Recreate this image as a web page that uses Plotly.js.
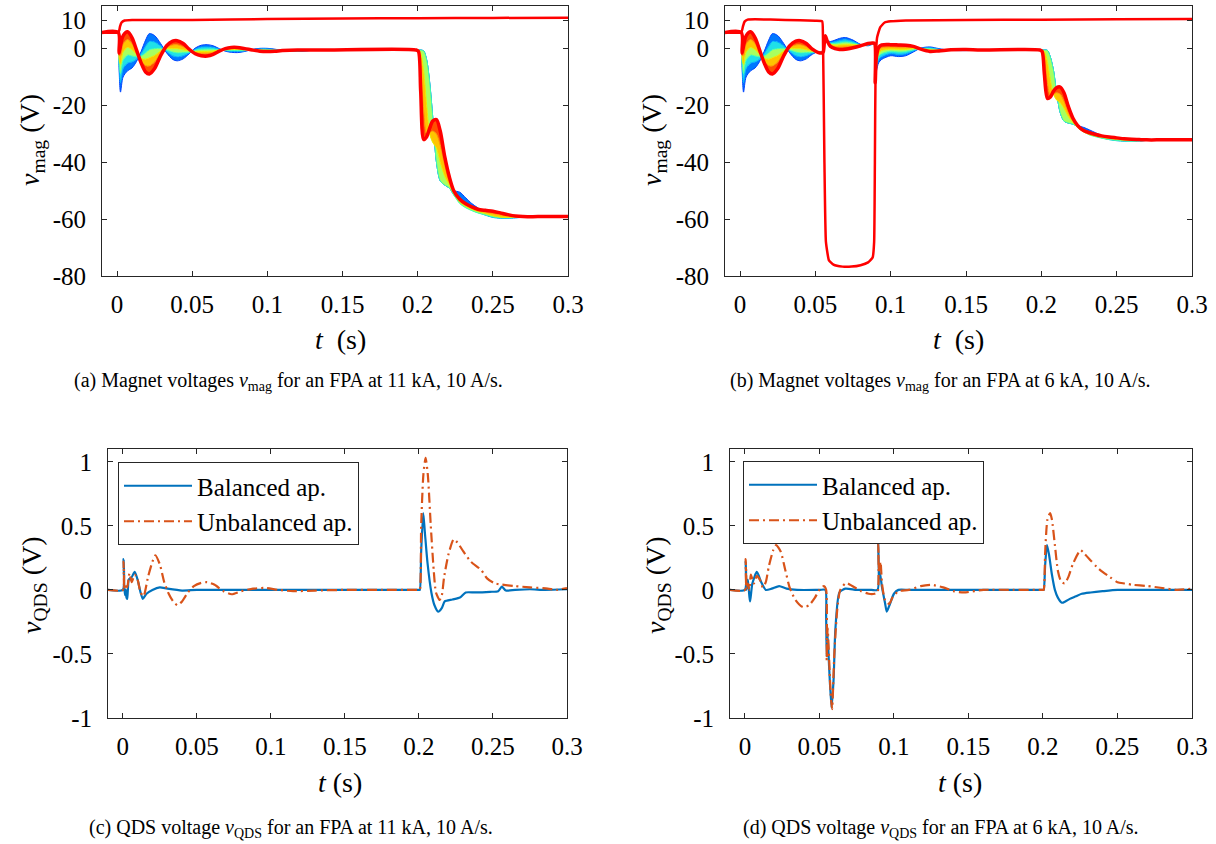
<!DOCTYPE html>
<html>
<head>
<meta charset="utf-8">
<script src="https://cdn.plot.ly/plotly-3.0.1.min.js"></script>
<style>html,body{margin:0;padding:0;background:#fff;}#chart{width:1216px;height:844px;}</style>
</head>
<body>
<div id="chart"></div>
<script>
// ---------- tick labels ----------
const xTickVals = [0, 0.05, 0.1, 0.15, 0.2, 0.25, 0.3];
const xTickText = ['0', '0.05', '0.1', '0.15', '0.2', '0.25', '0.3'];
const yMagTickVals = [-80, -60, -40, -20, 0, 10];
const yMagTickText = ['-80', '-60', '-40', '-20', '0', '10'];
const yQdsTickVals = [-1, -0.5, 0, 0.5, 1];
const yQdsTickText = ['-1', '-0.5', '0', '0.5', '1'];

// ---------- (a) magnet voltages, 11 kA : family of magnets (blue -> red) ----------
const tA = [-0.01, 0.0008, 0.0013, 0.0023, 0.004, 0.007, 0.010, 0.013, 0.016, 0.019, 0.0215, 0.025, 0.029, 0.033, 0.037, 0.040, 0.044, 0.048, 0.052, 0.056, 0.060, 0.064, 0.068, 0.072, 0.076, 0.080, 0.085, 0.090, 0.095, 0.100, 0.105, 0.110, 0.120, 0.130, 0.140,
  0.199, 0.2005, 0.202, 0.204, 0.206, 0.208, 0.210, 0.2125, 0.215, 0.218, 0.221, 0.224, 0.228, 0.232, 0.236, 0.240, 0.245, 0.250, 0.255, 0.260, 0.265, 0.270, 0.280, 0.300];
const magA_blue = [5.7, 5.7, -6, -15.3, -10, -7.8, -6.8, -4.5, -1.0, 3.0, 5.3, 4.6, 1.8, -1.5, -3.8, -4.3, -3.6, -1.8, 0.2, 1.2, 1.4, 1.0, 0.0, -0.9, -1.3, -1.4, -1.0, -0.3, 0.1, 0.1, -0.2, -0.6, -1.0, -0.6, -0.5,
  -0.5, -0.5, -0.5, -0.8, -4, -12, -24, -40, -46.5, -48, -49, -50, -50.5, -52.5, -54.5, -56, -57.8, -58.8, -59.3, -59.4, -59.3, -59.2, -59.1, -59.1];
const magA_cyan = [5.7, 5.7, -5.1, -12.0, -7.1, -5.1, -4.7, -3.7, -1.8, 0.8, 2.5, 2.3, 0.9, -1.0, -2.5, -2.9, -2.5, -1.5, -0.2, 0.5, 0.6, 0.4, -0.2, -0.7, -1.0, -1.0, -0.8, -0.3, -0.1, -0.1, -0.3, -0.6, -0.9, -0.6, -0.5,
  -0.5, -0.5, -0.5, -0.8, -4, -12, -24, -40, -46.5, -48, -49, -51.5, -53.5, -55.3, -56.6, -57.6, -58.6, -59.4, -59.7, -59.7, -59.6, -59.3, -59.1, -59.1];
const magA_green = [5.7, 5.7, -4.2, -8.8, -4.2, -2.3, -2.6, -2.9, -2.6, -1.5, -0.4, 0.0, 0.1, -0.5, -1.2, -1.5, -1.4, -1.2, -0.6, -0.3, -0.2, -0.2, -0.4, -0.5, -0.6, -0.7, -0.6, -0.4, -0.3, -0.3, -0.5, -0.6, -0.8, -0.6, -0.5,
  -0.5, -0.5, -0.5, -0.8, -4, -12, -24, -40, -46.5, -48, -49, -51.5, -54.5, -56, -57, -57.8, -58.5, -59.2, -59.5, -59.5, -59.4, -59.2, -59.1, -59.1];
const magA_yellow = [5.7, 5.7, -3.3, -5.5, -1.3, 0.4, -0.4, -2.1, -3.4, -3.7, -3.2, -2.4, -0.8, 0.0, 0.0, 0.0, -0.4, -0.8, -1.0, -1.0, -1.0, -0.8, -0.5, -0.4, -0.3, -0.3, -0.4, -0.4, -0.5, -0.6, -0.6, -0.7, -0.7, -0.5, -0.5,
  -0.5, -0.5, -1.5, -8, -20, -30, -33, -35, -40, -45, -48, -51, -54, -55.5, -56.5, -57.3, -58, -58.8, -59.3, -59.4, -59.3, -59.2, -59.1, -59.1];
const magA_orange = [5.7, 5.7, -2.4, -2.3, 1.6, 3.2, 1.7, -1.3, -4.2, -6.0, -6.1, -4.7, -1.6, 0.5, 1.3, 1.4, 0.7, -0.5, -1.4, -1.8, -1.8, -1.4, -0.7, -0.2, 0.1, 0.0, -0.2, -0.5, -0.7, -0.8, -0.8, -0.7, -0.6, -0.5, -0.5,
  -0.5, -0.7, -6, -22, -30, -29.5, -29, -30, -34, -41, -47, -50.5, -53.5, -55, -56, -56.9, -57.5, -58, -58.5, -58.9, -59.1, -59.1, -59.1, -59.1];
const magA_red = [5.7, 5.7, -1.5, 1.0, 4.5, 5.9, 3.8, -0.5, -5, -8.2, -8.9, -7, -2.5, 1.0, 2.6, 2.8, 1.8, -0.2, -1.8, -2.5, -2.6, -2.0, -0.9, 0.0, 0.4, 0.4, 0.0, -0.5, -0.9, -1.0, -0.9, -0.7, -0.5, -0.5, -0.5,
  -0.5, -1, -15, -32, -31, -28, -25.5, -25, -29, -38, -45, -50, -53, -54.6, -55.7, -56.5, -56.9, -57.2, -57.8, -58.4, -58.9, -59.1, -59.1, -59.1];
// quenching magnet (a)
const tQuenchA = [-0.01, 0.0008, 0.0015, 0.002, 0.003, 0.005, 0.010, 0.030, 0.050, 0.100, 0.150, 0.200, 0.250, 0.300];
const vQuenchA = [5.7, 5.7, 6.5, 7.8, 9.2, 9.9, 10.1, 10.1, 10.1, 10.4, 10.6, 10.7, 10.8, 10.9];

// ---------- (b) magnet voltages, 6 kA ----------
const tB = [-0.01, 0.0008, 0.0013, 0.0023, 0.004, 0.007, 0.010, 0.013, 0.016, 0.019, 0.0215, 0.025, 0.029, 0.033, 0.037, 0.040, 0.044, 0.048, 0.052, 0.0545, 0.0553, 0.0565, 0.058, 0.060, 0.063, 0.066, 0.070, 0.075, 0.080, 0.085, 0.088, 0.0893, 0.0897, 0.0905, 0.092, 0.094, 0.100, 0.105, 0.110, 0.115, 0.120, 0.126, 0.132, 0.140, 0.150, 0.160,
  0.199, 0.2005, 0.202, 0.204, 0.206, 0.208, 0.210, 0.2125, 0.215, 0.218, 0.221, 0.224, 0.228, 0.232, 0.236, 0.240, 0.245, 0.250, 0.255, 0.260, 0.265, 0.270, 0.280, 0.300];
const magB_blue = [5.7, 5.7, -6, -15.3, -10, -7.8, -6.8, -4.5, -1.0, 3.0, 5.3, 4.6, 1.8, -1.5, -3.8, -4.3, -3.6, -2.0, -1.0, -1.2, -1.2, 3.0, 2.8, 2.5, 3.0, 3.6, 3.9, 3.0, 1.5, 1.0, 1.5, 1.5, -12, -8, -5, -3.8, -2.5, -2.8, -2.5, -1.2, 0.2, 0.6, 0.0, -0.6, -0.7, -0.5,
  -0.5, -0.5, -0.5, -0.6, -3, -7.5, -15, -22.5, -25.5, -26.2, -26.5, -27.1, -27.7, -28.6, -29.6, -30.5, -31.3, -31.8, -32.2, -32.4, -32.4, -32.3, -32.1, -32.1];
const magB_cyan = [5.7, 5.7, -5.1, -12.0, -7.1, -5.1, -4.7, -3.7, -1.8, 0.8, 2.5, 2.3, 0.9, -1.0, -2.5, -2.9, -2.5, -1.6, -1.1, -1.3, -1.2, 3.3, 2.7, 2.2, 2.4, 2.8, 3.1, 2.5, 1.4, 1.2, 1.6, 1.6, -12, -7, -3.9, -2.8, -1.7, -2.0, -1.8, -0.8, 0.1, 0.3, -0.2, -0.6, -0.6, -0.5,
  -0.5, -0.5, -0.5, -0.6, -3, -7.5, -15, -22.5, -25.5, -26.2, -26.6, -27.4, -28.8, -30, -30.8, -31.4, -32, -32.4, -32.6, -32.6, -32.5, -32.3, -32.1, -32.1];
const magB_green = [5.7, 5.7, -4.2, -8.8, -4.2, -2.3, -2.6, -2.9, -2.6, -1.5, -0.4, 0.0, 0.1, -0.5, -1.2, -1.5, -1.4, -1.3, -1.2, -1.3, -1.1, 3.6, 2.7, 1.8, 1.8, 2.0, 2.3, 1.9, 1.3, 1.3, 1.7, 1.6, -12, -6, -2.8, -1.8, -0.9, -1.2, -1.0, -0.4, 0.0, 0.0, -0.3, -0.5, -0.5, -0.5,
  -0.5, -0.5, -0.5, -0.6, -3, -7.5, -15, -22.5, -25.5, -26.2, -26.6, -27.5, -29.2, -30.4, -31, -31.5, -32, -32.3, -32.5, -32.6, -32.5, -32.3, -32.1, -32.1];
const magB_yellow = [5.7, 5.7, -3.3, -5.5, -1.3, 0.4, -0.4, -2.1, -3.4, -3.7, -3.2, -2.4, -0.8, 0.0, 0.0, 0.0, -0.4, -0.9, -1.2, -1.4, -1.1, 3.9, 2.6, 1.5, 1.2, 1.3, 1.4, 1.4, 1.2, 1.5, 1.8, 1.7, -12, -5, -1.7, -0.7, -0.2, -0.3, -0.3, 0.0, 0.0, -0.4, -0.5, -0.5, -0.5, -0.5,
  -0.5, -0.5, -1, -4.5, -11, -16, -18, -19, -21, -24, -26, -27.8, -29.3, -30.2, -30.8, -31.2, -31.6, -31.9, -32.2, -32.3, -32.3, -32.2, -32.1, -32.1];
const magB_orange = [5.7, 5.7, -2.4, -2.3, 1.6, 3.2, 1.7, -1.3, -4.2, -6.0, -6.1, -4.7, -1.6, 0.5, 1.3, 1.4, 0.7, -0.6, -1.3, -1.4, -1.0, 4.2, 2.6, 1.1, 0.6, 0.5, 0.6, 0.8, 1.1, 1.6, 1.9, 1.7, -12, -4, -0.6, 0.3, 0.6, 0.5, 0.5, 0.4, -0.1, -0.7, -0.6, -0.4, -0.4, -0.5,
  -0.5, -0.6, -3.5, -12, -16.5, -16, -15.5, -16, -18.5, -22.5, -25.5, -27.3, -29, -29.8, -30.4, -30.9, -31.3, -31.6, -31.9, -32.1, -32.2, -32.2, -32.1, -32.1];
const magB_red = [5.7, 5.7, -1.5, 1.0, 4.5, 5.9, 3.8, -0.5, -5, -8.2, -8.9, -7, -2.5, 1.0, 2.6, 2.8, 1.8, -0.2, -1.4, -1.5, -1.0, 4.5, 2.5, 0.8, 0.0, -0.3, -0.2, 0.3, 1.0, 1.8, 2.0, 1.8, -12, -3, 0.5, 1.3, 1.4, 1.3, 1.2, 0.8, -0.2, -1.0, -0.8, -0.4, -0.3, -0.5,
  -0.5, -1, -9, -17.5, -17, -15, -13.8, -13.5, -15.5, -20.5, -24.5, -27, -28.8, -29.6, -30.2, -30.7, -31.1, -31.4, -31.7, -31.9, -32.0, -32.1, -32.1, -32.1];
// quenching magnet (b)
const tQuenchB = [-0.01, 0.0008, 0.002, 0.003, 0.005, 0.010, 0.030, 0.050, 0.0545, 0.0550, 0.0560, 0.0570, 0.0590, 0.0620, 0.0680, 0.0740, 0.0800, 0.0850, 0.0880, 0.0890, 0.0895, 0.0900, 0.0910, 0.0930, 0.0960, 0.1000, 0.1100, 0.1500, 0.2000, 0.2500, 0.3000];
const vQuenchB = [5.7, 5.7, 8.0, 9.5, 10.2, 10.3, 10.1, 9.8, 9.6, 5, -40, -68, -74.5, -76, -76.7, -76.7, -76.2, -75.2, -73.5, -68, -40, -5, 4, 7.5, 9.2, 9.6, 9.9, 10.1, 10.2, 10.3, 10.4];

// ---------- (c) QDS voltage, 11 kA ----------
const tC_bal = [-0.01, 0, 0.0005, 0.001, 0.0015, 0.002, 0.0025, 0.003, 0.0035, 0.004, 0.006, 0.008, 0.010, 0.012, 0.0135, 0.016, 0.020, 0.025, 0.030, 0.040, 0.050, 0.080, 0.120, 0.160, 0.200, 0.2006, 0.2015, 0.2029, 0.204, 0.2058, 0.2084, 0.2105, 0.213, 0.2155, 0.2174, 0.2226, 0.2277, 0.2316, 0.238, 0.248, 0.2535, 0.256, 0.2587, 0.265, 0.275, 0.285, 0.300];
const vC_bal = [0, 0, 0.24, 0.02, -0.04, 0.0, -0.06, -0.07, 0.02, 0.08, 0.10, 0.14, 0.08, -0.02, -0.07, -0.03, 0.0, 0.02, 0.01, -0.005, 0.0, 0.0, 0.0, 0.0, 0.0, 0.0, 0.3, 0.60, 0.45, 0.21, -0.02, -0.12, -0.17, -0.14, -0.09, -0.075, -0.06, -0.02, -0.02, -0.015, -0.01, 0.025, -0.005, 0.0, 0.005, 0.0, 0.005];
const tC_unb = [-0.01, 0, 0.0005, 0.001, 0.002, 0.003, 0.0045, 0.006, 0.008, 0.010, 0.012, 0.014, 0.017, 0.020, 0.022, 0.025, 0.028, 0.031, 0.034, 0.037, 0.040, 0.044, 0.048, 0.053, 0.057, 0.062, 0.068, 0.0735, 0.080, 0.088, 0.096, 0.105, 0.115, 0.130, 0.150, 0.175, 0.200, 0.2006, 0.2015, 0.203, 0.2045, 0.206, 0.208, 0.210, 0.2115, 0.2140, 0.2155, 0.217, 0.220, 0.2235, 0.226, 0.230, 0.235, 0.242, 0.246, 0.251, 0.2645, 0.275, 0.287, 0.293, 0.300];
const vC_unb = [0, 0, 0.22, 0.0, 0.05, 0.02, 0.13, 0.06, 0.12, 0.08, -0.02, -0.05, 0.1, 0.22, 0.27, 0.2, 0.06, -0.03, -0.09, -0.12, -0.09, -0.02, 0.03, 0.055, 0.06, 0.04, -0.01, -0.034, -0.01, 0.01, 0.015, 0.0, -0.01, -0.005, 0.0, 0.0, 0.0, 0.0, 0.5, 0.9, 1.03, 0.9, 0.5, 0.15, -0.02, -0.078, -0.04, 0.1, 0.28, 0.395, 0.37, 0.3, 0.22, 0.156, 0.09, 0.052, 0.03, 0.02, 0.01, 0.0, 0.015];

// ---------- (d) QDS voltage, 6 kA ----------
const tD_bal = [-0.01, 0, 0.0005, 0.001, 0.002, 0.003, 0.0035, 0.005, 0.008, 0.011, 0.014, 0.018, 0.023, 0.028, 0.035, 0.050, 0.054, 0.0545, 0.0549, 0.0555, 0.0565, 0.0581, 0.0595, 0.0607, 0.0634, 0.0674, 0.075, 0.085, 0.089, 0.0894, 0.090, 0.0905, 0.092, 0.094, 0.0952, 0.097, 0.100, 0.103, 0.110, 0.150, 0.200, 0.2005, 0.2015, 0.2027, 0.204, 0.206, 0.208, 0.210, 0.2127, 0.215, 0.218, 0.222, 0.226, 0.232, 0.240, 0.250, 0.270, 0.300];
const vD_bal = [0, 0, 0.22, 0.0, 0.08, -0.05, -0.09, 0.05, 0.14, 0.06, 0.0, 0.01, 0.03, 0.01, 0.0, 0.0, 0.0, -0.2, -0.52, -0.35, -0.6, -0.92, -0.7, -0.31, -0.02, 0.01, 0.0, 0.0, 0.0, 0.38, 0.1, 0.14, 0.02, -0.1, -0.17, -0.12, -0.03, 0.0, 0.0, 0.0, 0.0, 0.0, 0.2, 0.35, 0.28, 0.12, 0.0, -0.06, -0.1, -0.09, -0.07, -0.05, -0.03, -0.02, -0.01, 0.0, 0.0, 0.0];
const tD_unb = [-0.01, 0, 0.0005, 0.001, 0.002, 0.003, 0.004, 0.006, 0.008, 0.010, 0.012, 0.014, 0.016, 0.019, 0.021, 0.024, 0.027, 0.030, 0.034, 0.039, 0.043, 0.047, 0.050, 0.053, 0.0545, 0.0549, 0.0555, 0.0575, 0.0585, 0.060, 0.062, 0.064, 0.068, 0.072, 0.078, 0.083, 0.087, 0.089, 0.0895, 0.090, 0.091, 0.092, 0.094, 0.0968, 0.099, 0.103, 0.110, 0.118, 0.125, 0.133, 0.140, 0.147, 0.160, 0.180, 0.200, 0.2005, 0.2015, 0.203, 0.2048, 0.206, 0.208, 0.210, 0.212, 0.2145, 0.217, 0.220, 0.2252, 0.228, 0.232, 0.236, 0.240, 0.245, 0.250, 0.255, 0.260, 0.270, 0.280, 0.290, 0.300];
const vD_unb = [0, 0, 0.24, 0.0, 0.05, 0.0, 0.12, 0.05, 0.11, 0.08, 0.02, 0.06, 0.18, 0.31, 0.35, 0.3, 0.16, 0.02, -0.08, -0.135, -0.12, -0.06, 0.0, 0.03, 0.0, -0.55, -0.3, -0.8, -0.93, -0.5, -0.15, 0.0, 0.055, 0.03, -0.01, -0.03, -0.03, -0.02, 0.36, 0.15, 0.22, 0.05, -0.08, -0.11, -0.06, -0.01, 0.0, 0.03, 0.04, 0.02, -0.01, -0.02, 0.0, 0.0, 0.0, 0.0, 0.3, 0.55, 0.6, 0.55, 0.35, 0.15, 0.07, 0.05, 0.1, 0.2, 0.31, 0.28, 0.23, 0.18, 0.14, 0.1, 0.06, 0.05, 0.04, 0.03, 0.015, 0.0, 0.01];

const legendNames = ['Balanced ap.', 'Unbalanced ap.'];

// ---------- styling ----------
const FONT = 'Liberation Serif';
const famLine = ['#0044ff', '#00aaff', '#40ffb0', '#e8ee00', '#ff9000', '#ff0000'];
const famFill = ['', '#0078ff', '#20e0e8', '#a8ff60', '#ffc400', '#ff5000'];
const famWidth = [1, 1, 1, 1, 1, 3.5];

const traces = [];
function addFamily(t, curves, xa, ya) {
  curves.forEach((y, k) => {
    traces.push({
      x: t, y: y, xaxis: xa, yaxis: ya, type: 'scatter', mode: 'lines',
      line: {color: famLine[k], width: famWidth[k], shape: 'spline', smoothing: 0.8},
      fill: k === 0 ? 'none' : 'tonexty', fillcolor: famFill[k] || undefined,
      showlegend: false, hoverinfo: 'skip'
    });
  });
}
addFamily(tA, [magA_blue, magA_cyan, magA_green, magA_yellow, magA_orange, magA_red], 'x', 'y');
traces.push({x: tQuenchA, y: vQuenchA, xaxis: 'x', yaxis: 'y', type: 'scatter', mode: 'lines',
  line: {color: '#ff0000', width: 2.5, shape: 'spline', smoothing: 0.5}, showlegend: false, hoverinfo: 'skip'});
addFamily(tB, [magB_blue, magB_cyan, magB_green, magB_yellow, magB_orange, magB_red], 'x2', 'y2');
traces.push({x: tQuenchB, y: vQuenchB, xaxis: 'x2', yaxis: 'y2', type: 'scatter', mode: 'lines',
  line: {color: '#ff0000', width: 2.5, shape: 'spline', smoothing: 0.4}, showlegend: false, hoverinfo: 'skip'});

const BAL = '#0072BD', UNB = '#D95319';
function addQds(tb, vb, tu, vu, xa, ya, lg) {
  traces.push({x: tb, y: vb, xaxis: xa, yaxis: ya, type: 'scatter', mode: 'lines', name: legendNames[0], legend: lg,
    line: {color: BAL, width: 2.2, shape: 'spline', smoothing: 0.6}, hoverinfo: 'skip'});
  traces.push({x: tu, y: vu, xaxis: xa, yaxis: ya, type: 'scatter', mode: 'lines', name: legendNames[1], legend: lg,
    line: {color: UNB, width: 2.2, dash: '10px,4px,2px,4px', shape: 'spline', smoothing: 0.6}, hoverinfo: 'skip'});
}
addQds(tC_bal, vC_bal, tC_unb, vC_unb, 'x3', 'y3', 'legend');
addQds(tD_bal, vD_bal, tD_unb, vD_unb, 'x4', 'y4', 'legend2');

const W = 1216, H = 844;
const px = v => v / W, py = v => 1 - v / H;
function tickFont() { return {family: FONT, size: 25, color: '#000000'}; }
function xAxis(l, r, anchor) {
  return {domain: [px(l), px(r)], anchor: anchor, range: [-0.01, 0.3], tickmode: 'array', tickvals: xTickVals, ticktext: xTickText,
    ticks: 'inside', ticklen: 5, tickwidth: 1, tickcolor: '#262626', showline: true, linecolor: '#262626', linewidth: 1,
    mirror: 'ticks', showgrid: false, zeroline: false, tickfont: tickFont(), ticklabelstandoff: 6, fixedrange: true};
}
function yAxis(top, bot, anchor, range, vals, text) {
  return {domain: [py(bot), py(top)], anchor: anchor, range: range, tickmode: 'array', tickvals: vals, ticktext: text,
    ticks: 'inside', ticklen: 5, tickwidth: 1, tickcolor: '#262626', showline: true, linecolor: '#262626', linewidth: 1,
    mirror: 'ticks', showgrid: false, zeroline: false, tickfont: tickFont(), ticklabelstandoff: 10, fixedrange: true};
}

const ann = [];
function label(text, x, y, size, angle) {
  ann.push({text: text, xref: 'paper', yref: 'paper', x: px(x), y: py(y), xanchor: 'center', yanchor: 'middle',
    showarrow: false, textangle: angle || 0, font: {family: FONT, size: size, color: '#000'}});
}
label('<i>v</i><sub>mag</sub> (V)', 31, 140, 28, -90);
label('<i>v</i><sub>mag</sub> (V)', 653, 140, 28, -90);
label('<i>t</i>\u00a0\u00a0(s)', 340, 339, 28);
label('<i>t</i>\u00a0\u00a0(s)', 958, 339, 28);
label('<i>v</i><sub>QDS</sub> (V)', 33, 585, 28, -90);
label('<i>v</i><sub>QDS</sub> (V)', 657, 585, 28, -90);
label('<i>t</i> (s)', 340, 782, 28);
label('<i>t</i> (s)', 960, 782, 28);
label('(a) Magnet voltages <i>v</i><sub>mag</sub> for an FPA at 11 kA, 10 A/s.', 288, 381, 20);
label('(b) Magnet voltages <i>v</i><sub>mag</sub> for an FPA at 6 kA, 10 A/s.', 940, 381, 20);
label('(c) QDS voltage <i>v</i><sub>QDS</sub> for an FPA at 11 kA, 10 A/s.', 291, 828, 20);
label('(d) QDS voltage <i>v</i><sub>QDS</sub> for an FPA at 6 kA, 10 A/s.', 941, 828, 20);

const legendStyle = (x, y) => ({x: px(x), y: py(y), xanchor: 'left', yanchor: 'top', bgcolor: '#ffffff',
  bordercolor: '#262626', borderwidth: 1, font: {family: FONT, size: 25, color: '#000'}, itemwidth: 68,
  traceorder: 'normal', tracegroupgap: 0});

const layout = {
  width: W, height: H, autosize: false,
  font: {family: FONT, size: 24, color: '#000'},
  margin: {l: 0, r: 0, t: 0, b: 0, pad: 0},
  paper_bgcolor: '#ffffff', plot_bgcolor: '#ffffff',
  showlegend: true,
  xaxis: xAxis(102, 568, 'y'),
  yaxis: yAxis(6, 276, 'x', [-80, 15], yMagTickVals, yMagTickText),
  xaxis2: xAxis(725, 1192, 'y2'),
  yaxis2: yAxis(6, 276, 'x2', [-80, 15], yMagTickVals, yMagTickText),
  xaxis3: xAxis(108, 567, 'y3'),
  yaxis3: yAxis(449, 718, 'x3', [-1, 1.1], yQdsTickVals, yQdsTickText),
  xaxis4: xAxis(730, 1192, 'y4'),
  yaxis4: yAxis(449, 718, 'x4', [-1, 1.1], yQdsTickVals, yQdsTickText),
  legend: legendStyle(118, 462),
  legend2: legendStyle(743, 461),
  annotations: ann
};

Plotly.newPlot('chart', traces, layout, {staticPlot: true, displayModeBar: false});
</script>
</body>
</html>
